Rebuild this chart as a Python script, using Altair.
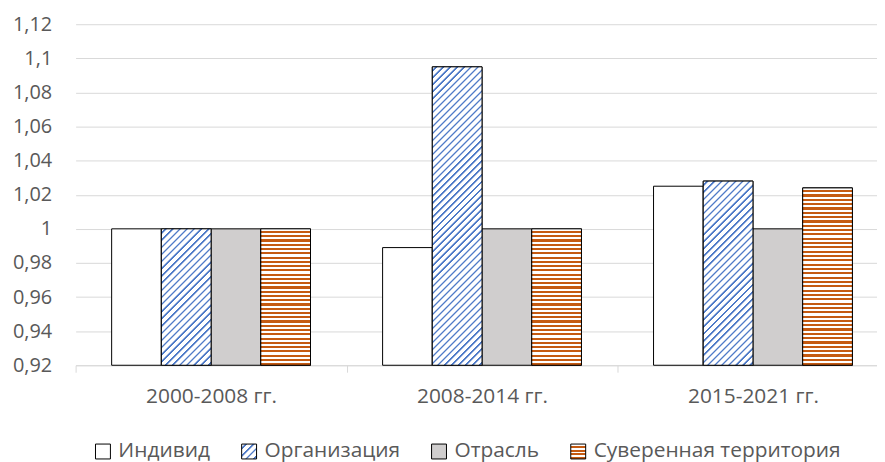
import math
import altair as alt
import pandas as pd

# ---- data ----
groups = ["2000-2008 гг.", "2008-2014 гг.", "2015-2021 гг."]
series = ["Индивид", "Организация", "Отрасль", "Суверенная территория"]
individ = [1.0, 0.989, 1.025]
organiz = [1.0, 1.095, 1.028]
otrasl = [1.0, 1.0, 1.0]
suveren = [1.0, 1.0, 1.024]
y_ticks = [0.92, 0.94, 0.96, 0.98, 1.0, 1.02, 1.04, 1.06, 1.08, 1.1, 1.12]

values = {series[0]: individ, series[1]: organiz, series[2]: otrasl, series[3]: suveren}
rows = []
for s in series:
    for g, v in zip(groups, values[s]):
        rows.append({"g": g, "s": s, "v": v})
df = pd.DataFrame(rows)

# ---- geometry used for pattern fills ----
W, H = 806, 343
BAND = 272.5
BAR_W = 50.0
Y0, Y1 = y_ticks[0], y_ticks[-1]
PAD_OUT = (BAND - 4 * BAR_W) / 2 / BAR_W


def bar_h(v):
    return (v - Y0) / (Y1 - Y0) * H


def grad(gid, stops, x1, y1, x2, y2):
    return {"gradient": "linear", "id": gid,
            "x1": round(x1, 5), "y1": round(y1, 5), "x2": round(x2, 5), "y2": round(y2, 5),
            "stops": [{"offset": round(min(max(o, 0), 1), 5), "color": c} for o, c in stops]}


def hstripes(gid, h, period=4.3, color="#C55A11", frac=0.5):
    n = max(1, round(h / period))
    st = []
    for i in range(n):
        a, b, c = i / n, (i + frac) / n, (i + 1) / n
        st += [(a, "#FFFFFF"), (b, "#FFFFFF"), (b, color), (c, color)]
    return grad(gid, st, 0, 0, 0, 1)


def dstripes(gid, w, h, period=5.0):
    k = (w + h) / (w * w + h * h)
    L = (w + h) / math.sqrt(2)
    n = max(1, round(L / period))
    st = []
    seg = [(0.0, "#FFFFFF"), (0.4, "#FFFFFF"), (0.4, "#B4C6E7"), (0.5, "#B4C6E7"),
           (0.5, "#4F7BC8"), (0.72, "#4F7BC8"), (0.72, "#B4C6E7"), (0.82, "#B4C6E7"),
           (0.82, "#FFFFFF"), (1.0, "#FFFFFF")]
    for i in range(n):
        for o, c in seg:
            st.append(((i + o) / n, c))
    return grad(gid, st, 0, 0, k * w, k * h)


def grad_expr(g):
    stops = ",".join("{offset: %s, color: '%s'}" % (s["offset"], s["color"]) for s in g["stops"])
    return "{gradient: 'linear', id: '%s', x1: %s, y1: %s, x2: %s, y2: %s, stops: [%s]}" % (
        g["id"], g["x1"], g["y1"], g["x2"], g["y2"], stops)


conds = []
for i, (g, v) in enumerate(zip(groups, organiz)):
    conds.append({"test": f"datum.s === '{series[1]}' && datum.g === '{g}'",
                  "value": dstripes(f"pat_org_{i}", BAR_W, bar_h(v))})
for i, (g, v) in enumerate(zip(groups, suveren)):
    conds.append({"test": f"datum.s === '{series[3]}' && datum.g === '{g}'",
                  "value": hstripes(f"pat_suv_{i}", bar_h(v))})

leg_blue = grad_expr(dstripes("pat_leg_org", 15, 15, period=5.0))
leg_orange = grad_expr(hstripes("pat_leg_suv", 15, period=3.75))

base = alt.Chart(df).encode(
    x=alt.X("g:N", sort=groups, title=None,
            scale=alt.Scale(range=[0, BAND * 3], paddingInner=0, paddingOuter=0),
            axis=alt.Axis(labelAngle=0, labelFont="Open Sans", labelFontSize=21,
                          labelColor="#595959", domainColor="#D9D9D9", tickColor="#D9D9D9",
                          tickSize=7, tickBand="extent", labelPadding=13, grid=False)),
    xOffset=alt.XOffset("s:N", sort=series,
                        scale=alt.Scale(paddingInner=0, paddingOuter=PAD_OUT)),
    y=alt.Y("v:Q", title=None,
            scale=alt.Scale(domain=[Y0, Y1], zero=False, nice=False),
            axis=alt.Axis(values=y_ticks, labelExpr="replace(format(datum.value, '.2~f'), '.', ',')",
                          labelFont="Open Sans", labelFontSize=20, labelColor="#595959",
                          ticks=False, domain=False, labelPadding=24,
                          gridColor="#D9D9D9", gridWidth=1)),
    y2=alt.datum(Y0),
)

solid = base.mark_bar(stroke="#000000", strokeWidth=1).encode(
    fill=alt.Fill("s:N", sort=series, title=None,
                  scale=alt.Scale(domain=series,
                                  range=["#FFFFFF", {"expr": leg_blue}, "#D0CECE", {"expr": leg_orange}]),
                  legend=alt.Legend(
                      orient="none", direction="horizontal", legendX=17, legendY=419,
                      symbolType="square", symbolSize=225, symbolStrokeColor="#000000",
                      symbolStrokeWidth=1, labelFont="Open Sans", labelFontSize=21,
                      labelColor="#595959", labelOffset=5, columnPadding=28, padding=0,
                      labelLimit=500,
                  )),
)

patterned = base.transform_filter(
    alt.FieldOneOfPredicate(field="s", oneOf=[series[1], series[3]])
).mark_bar(stroke="#000000", strokeWidth=1).encode(
    fill={"condition": conds, "value": "#FFFFFF"}
)

chart = alt.layer(solid, patterned).properties(
    width=W, height=H,
    autosize=alt.AutoSizeParams(type="none"),
    padding={"left": 68, "top": 15, "right": 0, "bottom": 96},
).configure_view(stroke=None)

chart.save("out.html", embed_options={"renderer": "svg", "actions": False})
